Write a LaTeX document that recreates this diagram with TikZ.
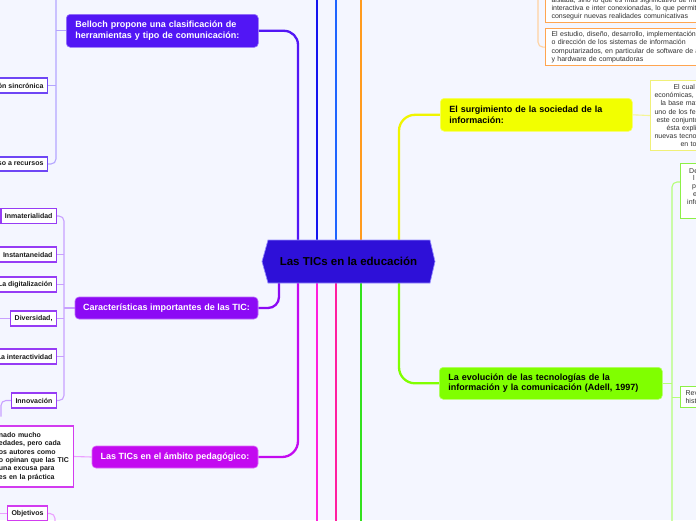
\documentclass[tikz,border=0pt]{standalone}
\usepackage{fontspec}
\setmainfont{Liberation Sans}
\usetikzlibrary{calc}
\pgfdeclarelayer{background}
\pgfsetlayers{background,main}
\definecolor{bgc}{RGB}{244,246,255}
\definecolor{cRoot}{RGB}{46,16,216}
\definecolor{cRootB}{RGB}{150,140,255}
\definecolor{cBel}{RGB}{82,22,245}
\definecolor{cCar}{RGB}{140,10,245}
\definecolor{cPed}{RGB}{195,10,240}
\definecolor{cYe}{RGB}{242,255,0}
\definecolor{cYeLine}{RGB}{240,245,0}
\definecolor{cEvo}{RGB}{128,255,0}
\definecolor{cB1}{RGB}{20,20,240}
\definecolor{cB2}{RGB}{30,100,255}
\definecolor{cOr}{RGB}{255,155,30}
\definecolor{cPk1}{RGB}{255,30,220}
\definecolor{cPk2}{RGB}{255,30,160}
\definecolor{cGr}{RGB}{50,225,30}
\definecolor{cBelL}{RGB}{180,165,255}
\definecolor{cCarL}{RGB}{200,160,255}
\definecolor{cPedL}{RGB}{235,160,255}
\definecolor{cOrL}{RGB}{255,210,160}
\definecolor{cYeL}{RGB}{245,245,150}
\definecolor{cLgL}{RGB}{180,255,120}
\definecolor{cBelB}{RGB}{110,70,245}
\definecolor{cCarB}{RGB}{150,60,245}
\definecolor{cPedB}{RGB}{210,60,240}
\definecolor{cOrB}{RGB}{255,165,80}
\definecolor{cYeB}{RGB}{240,240,120}
\definecolor{cGrB}{RGB}{140,240,70}
\definecolor{leafText}{RGB}{25,25,25}
\definecolor{noteText}{RGB}{50,50,50}
\begin{document}
\begin{tikzpicture}[x=1pt,y=-1pt,
  mainbox/.style={rounded corners=4pt, inner xsep=9pt, inner ysep=0pt, font=\bfseries\fontsize{9}{11}\selectfont, line width=0.6pt},
  leaf/.style={draw, fill=white, line width=1.1pt, inner xsep=4pt, inner ysep=0pt, minimum height=15pt, font=\bfseries\fontsize{7}{8.4}\selectfont, text=leafText},
  note/.style={draw, fill=white, line width=1.1pt, inner xsep=6pt, inner ysep=3pt, font=\fontsize{7}{8.2}\selectfont, text=noteText, align=left},
  conn/.style={line width=2.3pt, rounded corners=14pt},
  lconn/.style={line width=1.1pt, rounded corners=5pt}
]
\useasboundingbox (0,0) rectangle (696,520);
\begin{pgfonlayer}{background}
\fill[bgc] (0,0) rectangle (696,520);
\end{pgfonlayer}

% central hexagon
\fill[cRoot, draw=cRootB, line width=0.7pt] (262,261.5) -- (268,240) -- (430,240) -- (435,261.5) -- (430,283) -- (268,283) -- cycle;
\node[inner sep=0pt, font=\bfseries\fontsize{11.5}{13}\selectfont, text=black] (root) at (348.5,261.5) {Las TICs en la educación};

% main nodes
\node[mainbox, fill=cBel, draw=cBel!60!white, text=white, anchor=north west, minimum width=192pt, minimum height=33pt, text width=174pt, align=left] (bel) at (66,14) {Belloch propone una clasificación de\\herramientas y tipo de comunicación:};
\node[mainbox, fill=cCar, draw=cCar!60!white, text=white, minimum width=183pt, minimum height=22pt, inner xsep=0pt] (car) at (166.5,308) {Características importantes de las TIC:};
\node[mainbox, fill=cPed, draw=cPed!60!white, text=white, minimum width=166pt, minimum height=22pt, inner xsep=0pt] (ped) at (175,457) {Las TICs en el ámbito pedagógico:};
\node[mainbox, fill=cYe, draw=cYe!60!white, text=black, anchor=north west, minimum width=192pt, minimum height=33pt, text width=174pt, align=left, font=\bfseries\fontsize{9}{10.5}\selectfont] (sur) at (440,98) {El surgimiento de la sociedad de la\\información:};
\node[mainbox, fill=cEvo, draw=cEvo!60!white, text=black, anchor=north west, minimum width=223pt, minimum height=32pt, text width=205pt, align=left, font=\bfseries\fontsize{9}{10.5}\selectfont] (evo) at (439,367) {La evolución de las tecnologías de la\\información y la comunicación (Adell, 1997)};

% Belloch leaves
\node[leaf, draw=cBelB, anchor=east] (sin) at (48,85.5) {ón sincrónica};
\node[leaf, draw=cBelB, anchor=east, minimum height=14pt] (rec) at (48,164) {so a recursos};

% Caracteristicas leaves
\node[leaf, draw=cCarB, anchor=east] (inm) at (57,216) {Inmaterialidad};
\node[leaf, draw=cCarB, anchor=east] (ins) at (57,254.5) {Instantaneidad};
\node[leaf, draw=cCarB, anchor=east] (dig) at (57,284.5) {La digitalización};
\node[leaf, draw=cCarB, anchor=east] (div) at (57,318.5) {Diversidad,};
\node[leaf, draw=cCarB, anchor=east] (int) at (57,356.5) {La interactividad};
\node[leaf, draw=cCarB, anchor=east] (inn) at (57,400.5) {Innovación};

% Pedagogico leaves
\node[leaf, draw=cPedB, anchor=east, text width=73pt, inner xsep=1.5pt, align=left, minimum height=61pt] (ptx) at (74,456.5) {nado mucho\\edades, pero cada\\os autores como\\o opinan que las TIC\\una excusa para\\es en la práctica};
\node[leaf, draw=cPedB, anchor=west] (obj) at (7,513.5) {Objetivos};

% orange notes
\node[note, draw=cOrB, anchor=south west, text width=200pt, inner ysep=2.5pt] (ob1) at (545,23) {aislada, sino lo que es más significativo de ma\\interactiva e inter conexionadas, lo que permite\\conseguir nuevas realidades comunicativas};
\node[note, draw=cOrB, anchor=north west, text width=200pt] (ob2) at (545,28) {El estudio, diseño, desarrollo, implementación,\\o dirección de los sistemas de información\\computarizados, en particular de software de a\\y hardware de computadoras};

% yellow note
\node[note, draw=cYeB, anchor=north west, inner xsep=4pt, minimum height=70pt, text width=100pt, font=\fontsize{7}{8.1}\selectfont] (yb) at (650,80) {\hspace*{19pt}El cual\\económicas,\\\hspace*{6pt}la base mat\\uno de los fe\\\hspace*{2pt}este conjunto\\\hspace*{12pt}ésta expli\\nuevas tecno\\\hspace*{26pt}en to};

% green notes
\node[draw=cGrB, fill=white, line width=1.1pt, anchor=north west, minimum width=40pt, minimum height=55pt] (gb1) at (680,163) {};
\node[anchor=north west, inner sep=0pt, align=left, font=\fontsize{7}{7.8}\selectfont, text=noteText] (gt1) at (687,168) {\hspace*{2pt}De\\\hspace*{6pt}l\\\hspace*{5pt}p\\\hspace*{6pt}e\\info};
\node[note, draw=cGrB, anchor=north west, inner xsep=5pt, inner ysep=2pt, minimum height=21pt, text width=40pt, font=\fontsize{7}{8}\selectfont] (gb2) at (680,386) {Rev\\hist};

\coordinate (gx) at (672,0);
\coordinate (cbus) at (64,308);

\begin{pgfonlayer}{background}
% main connectors, top
\draw[conn, cBel] ($(root.center)+(-50.5,0)$) |- (bel.east);
\draw[conn, cB1] ($(root.center)+(-31.5,0)$) -- ++(0,-275);
\draw[conn, cB2] ($(root.center)+(-12.5,0)$) -- ++(0,-275);
\draw[conn, cOr] ($(root.center)+(12.5,0)$) -- ++(0,-275);
\draw[conn, cYeLine, rounded corners=16pt] ($(root.center)+(50.5,0)$) |- (sur.west);
% main connectors, bottom
\draw[conn, cCar, rounded corners=11pt] ($(root.center)+(-69.5,0)$) |- (car.east);
\draw[conn, cPed, rounded corners=16pt] ($(root.center)+(-50.5,0)$) |- (ped.east);
\draw[conn, cPk1] ($(root.center)+(-31.5,0)$) -- ++(0,275);
\draw[conn, cPk2] ($(root.center)+(-12.5,0)$) -- ++(0,275);
\draw[conn, cGr] ($(root.center)+(12.5,0)$) -- ++(0,275);
\draw[conn, cEvo, rounded corners=16pt] ($(root.center)+(50.5,0)$) |- (evo.west);

% Belloch bus
\draw[lconn, cBelL] (56,-5) |- (rec.east);
\draw[lconn, cBelL] (sin.east) -- ++(8,0);
\draw[lconn, cBelL] (bel.west) -- ++(-10,0);

% Caracteristicas bus
\draw[lconn, cCarL] (inm.east) -| (cbus) |- (inn.east);
\draw[lconn, cCarL] (ins.east) -- (ins.east -| cbus);
\draw[lconn, cCarL] (dig.east) -- (dig.east -| cbus);
\draw[lconn, cCarL] (div.east) -- (div.east -| cbus);
\draw[lconn, cCarL] (int.east) -- (int.east -| cbus);
\draw[lconn, cCarL] (car.west) -- (cbus);
\draw[lconn, cCarL] (div.west) -- ++(-12,0);
\draw[lconn, cCarL] (inn.west) -| ++(-10,16);

% Pedagogico
\draw[lconn, cPedL] (ped.west) -- (ptx.east);
\draw[lconn, cPedL] (obj.west) -- ++(-9,0);
\draw[lconn, cPedL] (obj.east) -| ++(7,12);

% orange
\draw[lconn, cOrL] (538,-5) |- (ob2.west);
% yellow
\draw[lconn, cYeL] (sur.east) -- (yb.west);
% green
\draw[lconn, cLgL] ($(gb1.north west)+(0,19)$) -| (672,525);
\draw[lconn, cLgL] (evo.east) -- (evo.east -| gx);
\draw[lconn, cLgL] (gb2.west) -- (gb2.west -| gx);
\end{pgfonlayer}
\end{tikzpicture}
\end{document}
